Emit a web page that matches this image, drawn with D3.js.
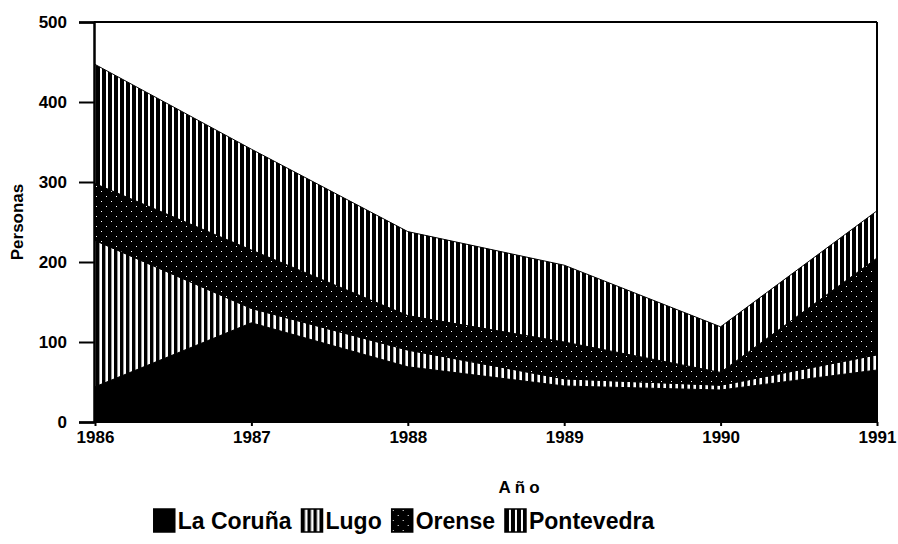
<!DOCTYPE html>
<html>
<head>
<meta charset="utf-8">
<script src="https://cdn.jsdelivr.net/npm/d3@7"></script>
<style>
  html, body { margin: 0; padding: 0; background: #fff; }
  svg { display: block; }
  text { font-family: "Liberation Sans", Arial, Helvetica, sans-serif; font-weight: bold; fill: #000; }
</style>
</head>
<body>
<svg id="chart" width="898" height="544"></svg>
<script>
// ---- data ----
const years = [1986, 1987, 1988, 1989, 1990, 1991];
const laCoruna   = [44, 124, 69, 45, 40, 65];
const lugo       = [183, 18, 21, 9, 6, 19];
const orense     = [71, 73, 43, 46, 16, 121];
const pontevedra = [149, 126, 105, 96, 57, 59];
const seriesNames = ["La Coruña", "Lugo", "Orense", "Pontevedra"];
const yTicks = [0, 100, 200, 300, 400, 500];
const xLabel = "Año";
const yLabel = "Personas";

// ---- build table ----
const table = years.map((y, i) => ({
  year: y,
  "La Coruña": laCoruna[i],
  "Lugo": lugo[i],
  "Orense": orense[i],
  "Pontevedra": pontevedra[i]
}));

const svg = d3.select("#chart");
const margin = { left: 94, right: 21, top: 22, bottom: 122 };
const W = 898, H = 544;
const x = d3.scaleLinear().domain([1986, 1991]).range([margin.left + 1, W - margin.right]);
const y = d3.scaleLinear().domain([0, 500]).range([H - margin.bottom, margin.top]);

// ---- patterns ----
const defs = svg.append("defs");
function stripe(id, period, black) {
  const p = defs.append("pattern").attr("id", id)
    .attr("patternUnits", "userSpaceOnUse").attr("width", period).attr("height", 10);
  p.append("rect").attr("width", period).attr("height", 10).attr("fill", "#fff");
  p.append("rect").attr("width", black).attr("height", 10).attr("fill", "#000");
}
stripe("stripeLugo", 6, 3.4);
stripe("stripePont", 6, 4);
const dots = defs.append("pattern").attr("id", "dotOrense")
  .attr("patternUnits", "userSpaceOnUse").attr("width", 10).attr("height", 10);
dots.append("rect").attr("width", 10).attr("height", 10).attr("fill", "#000");
dots.append("rect").attr("x", 1).attr("y", 1).attr("width", 1).attr("height", 1).attr("fill", "#fff");
dots.append("rect").attr("x", 6).attr("y", 6).attr("width", 1).attr("height", 1).attr("fill", "#fff");

const fills = {
  "La Coruña": "#000",
  "Lugo": "url(#stripeLugo)",
  "Orense": "url(#dotOrense)",
  "Pontevedra": "url(#stripePont)"
};

// ---- stacked areas ----
const stack = d3.stack().keys(seriesNames);
const layers = stack(table);
const area = d3.area()
  .x(d => x(d.data.year))
  .y0(d => y(d[0]))
  .y1(d => y(d[1]));

svg.append("g").selectAll("path").data(layers).join("path")
  .attr("d", area)
  .attr("fill", d => fills[d.key])
  .attr("stroke", "#000")
  .attr("stroke-width", 1);

// ---- frame ----
const x0 = margin.left, x1 = W - margin.right;
const yTop = y(500), yBot = y(0);
svg.append("line").attr("x1", x0).attr("x2", x1).attr("y1", yTop).attr("y2", yTop)
  .attr("stroke", "#000").attr("stroke-width", 2);
svg.append("line").attr("x1", x1).attr("x2", x1).attr("y1", yTop).attr("y2", yBot)
  .attr("stroke", "#000").attr("stroke-width", 2);

// ---- axes ----
const yAxis = d3.axisLeft(y).tickValues(yTicks).tickSize(15).tickPadding(12).tickFormat(d3.format("d"));
const gy = svg.append("g").attr("transform", `translate(${x0},0)`).call(yAxis);
gy.select(".domain").attr("stroke", "#000").attr("stroke-width", 2.5);
gy.selectAll(".tick line").attr("stroke", "#000").attr("stroke-width", 2);
gy.selectAll(".tick text").attr("font-size", 17).attr("font-family", "Liberation Sans, Arial, sans-serif")
  .attr("font-weight", "bold");

const xAxis = d3.axisBottom(x).tickValues(years).tickSize(4).tickPadding(5).tickFormat(d3.format("d"));
const gx = svg.append("g").attr("transform", `translate(0,${yBot})`).call(xAxis);
gx.select(".domain").attr("stroke", "#000").attr("stroke-width", 2).attr("d", `M${x0},0H${x1}`);
gx.selectAll(".tick line").attr("stroke", "#000").attr("stroke-width", 2);
gx.selectAll(".tick text").attr("font-size", 17).attr("font-family", "Liberation Sans, Arial, sans-serif")
  .attr("font-weight", "bold");

// ---- axis titles ----
svg.append("text").attr("x", 521).attr("y", 493).attr("text-anchor", "middle")
  .attr("font-size", 17).attr("letter-spacing", 4).text(xLabel);
svg.append("text").attr("transform", `translate(23,${(yTop + yBot) / 2}) rotate(-90)`)
  .attr("text-anchor", "middle").attr("font-size", 17).text(yLabel);

// ---- legend ----
const legend = svg.append("g");
const swW = 21, swH = 23, gap = 3, itemGap = 10;
let lx = 0;
seriesNames.forEach(name => {
  const g = legend.append("g").attr("transform", `translate(${lx},0)`);
  g.append("rect").attr("x", 0).attr("y", 0).attr("width", swW).attr("height", swH)
    .attr("fill", fills[name]).attr("stroke", "#000").attr("stroke-width", 1.5);
  const t = g.append("text").attr("x", swW + gap).attr("y", swH - 3)
    .attr("font-size", 23).text(name);
  const tw = t.node().getComputedTextLength();
  lx += swW + gap + tw + itemGap;
});
const totalW = lx - itemGap;
legend.attr("transform", `translate(${404 - totalW / 2},509)`);
</script>
</body>
</html>
